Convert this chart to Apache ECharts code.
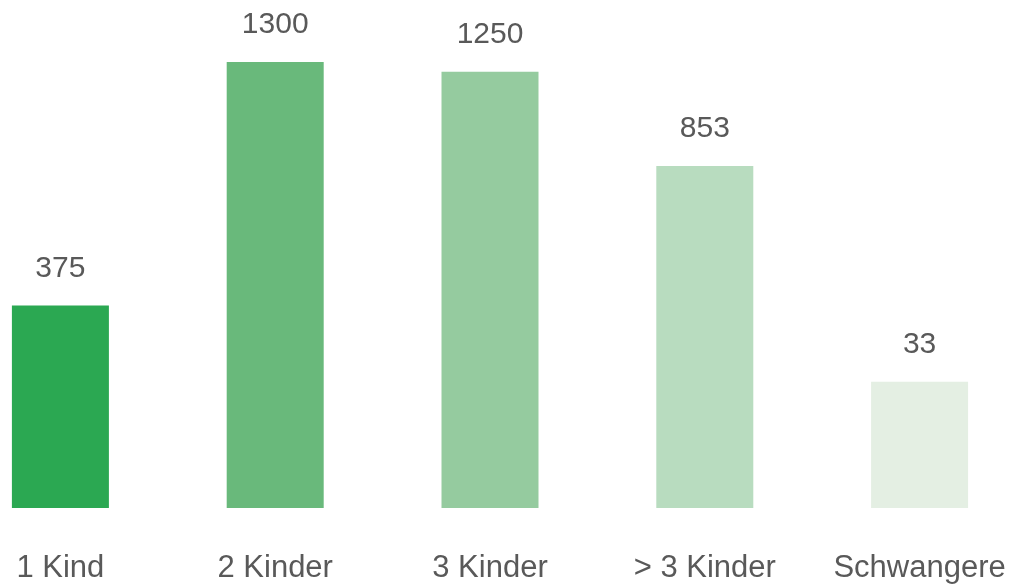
<!DOCTYPE html>
<html>
<head>
<meta charset="utf-8">
<script src="https://cdn.jsdelivr.net/npm/echarts@6/dist/echarts.min.js"></script>
<style>
  html, body { margin: 0; padding: 0; background: #fff; overflow: hidden; }
  /* the first bar sits close to the left edge, so the canvas is shifted a bit left */
  #chartDom { width: 1074px; height: 584px; margin-left: -47px; }
</style>
</head>
<body>
<div id="chartDom"></div>
<script>
// categories and the printed numbers
const categories = ['1 Kind', '2 Kinder', '3 Kinder', '> 3 Kinder', 'Schwangere'];
const values = [375, 1300, 1250, 853, 33];
// the bars in the picture are not to scale: relative bar lengths read off it (tallest = 100)
const barHeights = [45.4, 100, 97.8, 76.7, 28.3];
const barColors = ['#2ba852', '#69b97b', '#95cb9f', '#b8dcbf', '#e4efe3'];

const chart = echarts.init(document.getElementById('chartDom'));

const option = {
  animation: false,
  grid: { left: 0, right: 0, top: 62, bottom: 76 },
  xAxis: {
    type: 'category',
    data: categories,
    axisLine: { show: false },
    axisTick: { show: false },
    axisLabel: {
      interval: 0,
      margin: 45,
      color: '#595959',
      fontSize: 31,
      fontFamily: 'Liberation Sans, Arial, sans-serif'
    }
  },
  yAxis: {
    type: 'value',
    min: 0,
    max: 100,
    show: false,
    splitLine: { show: false }
  },
  series: [{
    type: 'bar',
    barWidth: 97,
    data: barHeights.map((h, i) => ({
      value: h,
      itemStyle: { color: barColors[i] }
    })),
    label: {
      show: true,
      position: 'top',
      distance: 22,
      formatter: (p) => String(values[p.dataIndex]),
      color: '#595959',
      fontSize: 30,
      fontFamily: 'Liberation Sans, Arial, sans-serif'
    }
  }]
};

chart.setOption(option);
</script>
</body>
</html>
